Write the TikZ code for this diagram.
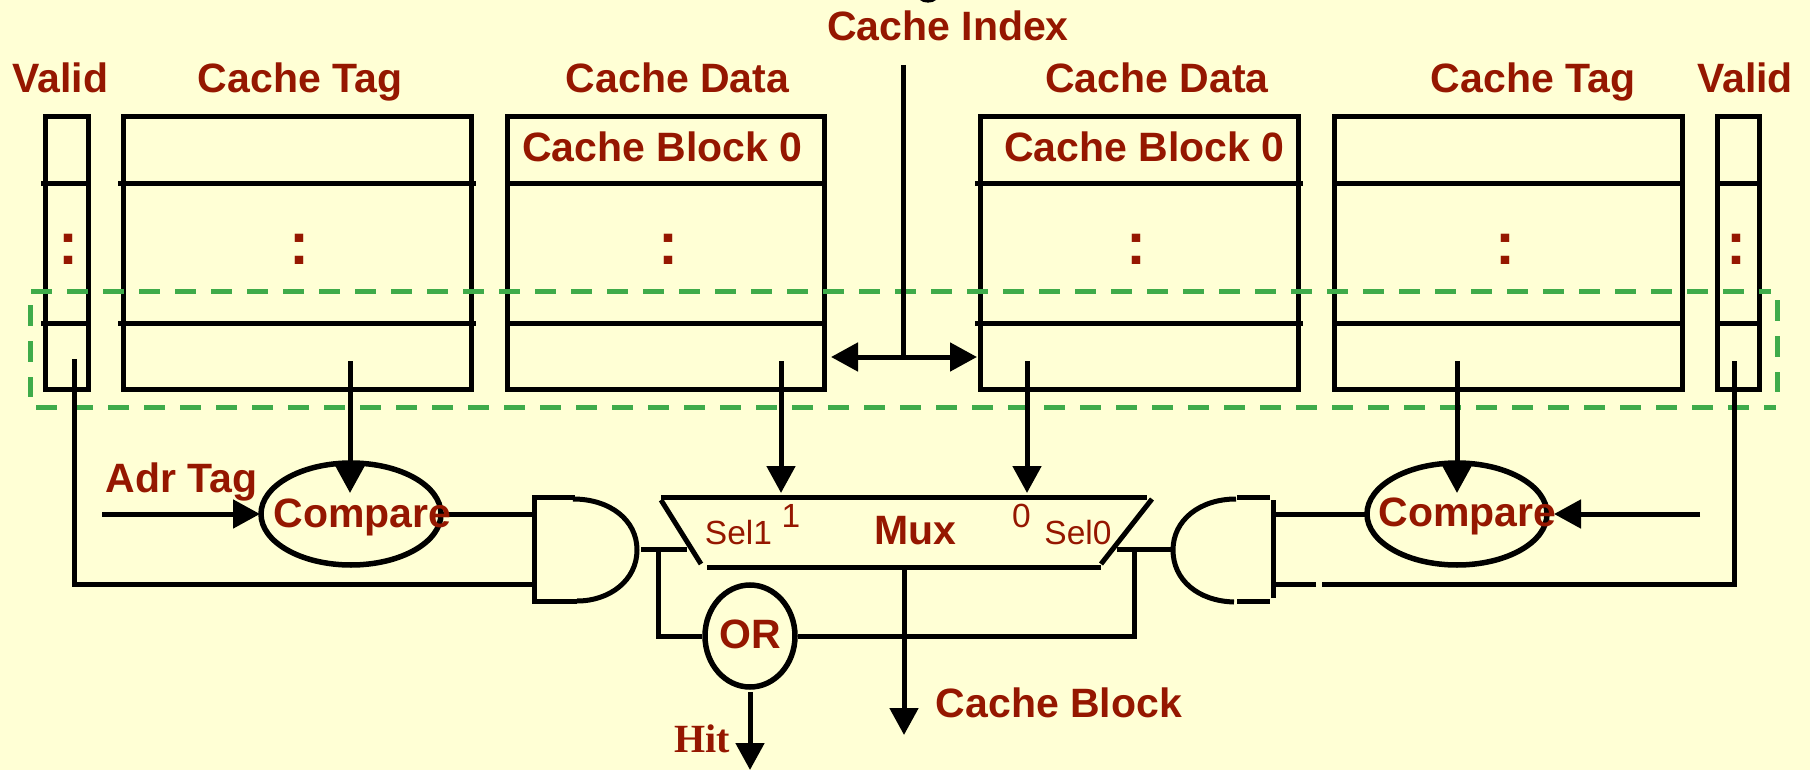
\documentclass[tikz,border=0pt]{standalone}
\usepackage{fontspec}
\setmainfont{Liberation Sans}
\newfontfamily\hitfont{Liberation Serif}
\usetikzlibrary{arrows.meta,shapes.geometric}
\definecolor{bgc}{HTML}{FFFFD5}
\definecolor{txc}{HTML}{951700}
\definecolor{grc}{HTML}{3FAB4A}
\tikzset{
  lab/.style={anchor=base,inner sep=0pt,outer sep=0pt,text=txc,font=\bfseries\fontsize{41}{44}\selectfont},
  sel/.style={anchor=base,inner sep=0pt,outer sep=0pt,text=txc,font=\fontsize{33.5}{36}\selectfont},
  dots/.style={anchor=base,inner sep=0pt,outer sep=0pt,text=txc,font=\bfseries\fontsize{60}{62}\selectfont},
  memblock/.style={draw=black,line width=5pt,rectangle,inner sep=0pt,outer sep=0pt},
  cmpnode/.style={draw=black,line width=5.5pt,ellipse,inner sep=0pt,outer sep=0pt,minimum width=180pt,minimum height=102pt},
  ornode/.style={draw=black,line width=5.5pt,ellipse,inner sep=0pt,outer sep=0pt,minimum width=90pt,minimum height=102pt},
  wire/.style={draw=black,line width=5pt},
  sep/.style={draw=black,line width=5pt},
  arrow/.style={draw=black,line width=5pt,-{Triangle[length=27pt,width=28pt]}},
  greenbox/.style={draw=grc,line width=5pt,dash pattern=on 21pt off 15pt},
}
\begin{document}
\begin{tikzpicture}[x=1pt,y=-1pt]
\useasboundingbox[fill=bgc] (0,0) rectangle (1810,770);
\fill[black] (920,0) .. controls (923,3.5) and (933,3.5) .. (936,0) -- cycle;

% memory columns
\node[memblock,minimum width=43pt,minimum height=272pt] (vL) at (66.5,253) {};
\node[memblock,minimum width=348pt,minimum height=272pt] (tL) at (297,253) {};
\node[memblock,minimum width=317pt,minimum height=272pt] (dL) at (665.5,253) {};
\node[memblock,minimum width=318pt,minimum height=272pt] (dR) at (1139.5,253) {};
\node[memblock,minimum width=348pt,minimum height=272pt] (tR) at (1508,253) {};
\node[memblock,minimum width=42pt,minimum height=272pt] (vR) at (1738.5,253) {};

% row separators
\foreach \yy in {184,323}{
  \draw[sep] (41,\yy) -- (91,\yy);
  \draw[sep] (118,\yy) -- (476,\yy);
  \draw[sep] (507,\yy) -- (824,\yy);
  \draw[sep] (975,\yy) -- (1303,\yy);
  \draw[sep] (1334,\yy) -- (1682,\yy);
  \draw[sep] (1718,\yy) -- (1759,\yy);
}

% selected-set outline
\draw[greenbox] (31,291) -- (1771,291);
\draw[greenbox] (36,407) -- (1776,407);
\draw[greenbox] (30,305) -- (30,397);
\draw[greenbox] (1777,300) -- (1777,392);

% column labels
\node[lab] (lValidL) at (60.5,93) {Valid};
\node[lab] (lTagL) at (300,93) {Cache Tag};
\node[lab] (lDataL) at (677.5,93) {Cache Data};
\node[lab] (lBlockL) at (662.5,162) {Cache Block 0};
\node[lab] (lIndex) at (948,40.5) {Cache Index};
\node[lab] (lDataR) at (1157,93) {Cache Data};
\node[lab] (lBlockR) at (1144.5,162) {Cache Block 0};
\node[lab] (lTagR) at (1533,93) {Cache Tag};
\node[lab] (lValidR) at (1745,93) {Valid};
\foreach \nm/\xx in {a/68.7,b/299.5,c/668,d/1136,e/1505,f/1736}
  \node[dots] (dot\nm) at (\xx,265) {:};

% cache index
\coordinate (idxTop) at (903,65);
\coordinate (idxMid) at (903,357);
\coordinate (idxL) at (831,357);
\coordinate (idxR) at (977,357);
\draw[wire] (idxTop) -- (idxMid);
\draw[arrow] (idxMid) -- (idxL);
\draw[arrow] (idxMid) -- (idxR);

% compare units
\node[cmpnode] (cmpL) at (351,514) {};
\node[cmpnode] (cmpR) at (1457,514) {};
\node[ornode] (orn) at (750,636) {};

% AND gates
\draw[wire] (534.5,497) -- (534.5,601);
\draw[wire] (532,497) -- (575,497);
\draw[wire] (532,601) -- (577,601);
\draw[line width=5pt] (573,499) .. controls (610,499) and (637,520) .. (637,550) .. controls (637,580) and (610,601) .. (577,601);
\coordinate (andLin1) at (534.5,514);
\coordinate (andLin2) at (534.5,584);
\coordinate (andLout) at (641,549);
\draw[wire] (1273,500) -- (1273,598);
\draw[wire] (1237,497) -- (1270,497);
\draw[wire] (1237,601) -- (1270,601);
\draw[line width=5pt] (1236,499) .. controls (1200,499) and (1173,520) .. (1173,550) .. controls (1173,580) and (1198,601) .. (1234,602);
\coordinate (andRin1) at (1273,514);
\coordinate (andRin2) at (1273,584);
\coordinate (andRgap) at (1316,584);
\coordinate (andRout) at (1173,549);

% mux
\draw[wire] (661,497) -- (1147,497);
\draw[wire] (661,500) -- (701,564);
\draw[wire] (1152,499) -- (1101,564);
\draw[wire] (707,567) -- (1101,567);
\node[lab] (lMux) at (915,544) {Mux};
\node[sel] (lSel1) at (738.5,544) {Sel1};
\node[sel] (lOne) at (791,527) {1};
\node[sel] (lZero) at (1021.5,527) {0};
\node[sel] (lSel0) at (1078,544) {Sel0};

% connector end points
\coordinate (vLs) at (74,361);
\coordinate (tLs) at (350,361);
\coordinate (dLs) at (781,361);
\coordinate (dRs) at (1027,361);
\coordinate (tRs) at (1457,361);
\coordinate (vRs) at (1734,361);
\coordinate (vLc) at (74,584);
\coordinate (vRc) at (1734,584);
\coordinate (vRe) at (1322,584);
\coordinate (cmpLt) at (350,493);
\coordinate (cmpRt) at (1457,493);
\coordinate (muxL) at (781,493);
\coordinate (muxR) at (1027,493);
\coordinate (adrS) at (102,514);
\coordinate (adrE) at (260,514);
\coordinate (rtagS) at (1700,514);
\coordinate (rtagE) at (1554,514);
\coordinate (muxLo) at (687,549);
\coordinate (muxRo) at (1117,549);
\coordinate (tapL) at (658,552);
\coordinate (tapLb) at (658,636);
\coordinate (tapR) at (1134,552);
\coordinate (tapRb) at (1134,636);
\coordinate (muxOutS) at (904,567);
\coordinate (muxOutE) at (904,735);
\coordinate (hitS) at (750,692);
\coordinate (hitE) at (750,770);

% connectors
\draw[wire,line cap=rect] (vLs) -- (vLc) -- (andLin2);
\draw[wire] (vRs) -- (vRc) -- (vRe);
\draw[wire] (andRgap) -- (andRin2);
\draw[arrow] (tLs) -- (cmpLt);
\draw[arrow] (tRs) -- (cmpRt);
\draw[arrow] (dLs) -- (muxL);
\draw[arrow] (dRs) -- (muxR);
\draw[arrow] (adrS) -- (adrE);
\draw[arrow] (rtagS) -- (rtagE);
\draw[wire] (cmpL.east) -- (andLin1);
\draw[wire] (cmpR.west) -- (andRin1);
\draw[wire] (andLout) -- (muxLo);
\draw[wire] (andRout) -- (muxRo);
\draw[wire,shorten >=3pt] (tapL) -- (tapLb) -- (orn.west);
\draw[wire,shorten >=3pt] (tapR) -- (tapRb) -- (orn.east);
\draw[arrow] (muxOutS) -- (muxOutE);
\draw[arrow] (hitS) -- (hitE);

% unit labels
\node[lab] (lCmpL) at (362.5,527) {Compare};
\node[lab] (lCmpR) at (1467.5,526.5) {Compare};
\node[lab] (lOR) at (750,648) {OR};
\node[lab] (lAdr) at (181.5,492) {Adr Tag};
\node[lab] (lOut) at (1059,717) {Cache Block};
\node[anchor=base,inner sep=0pt,outer sep=0pt,text=txc,font=\hitfont\bfseries\fontsize{40}{44}\selectfont] (lHit) at (702.5,752) {Hit};
\end{tikzpicture}
\end{document}
